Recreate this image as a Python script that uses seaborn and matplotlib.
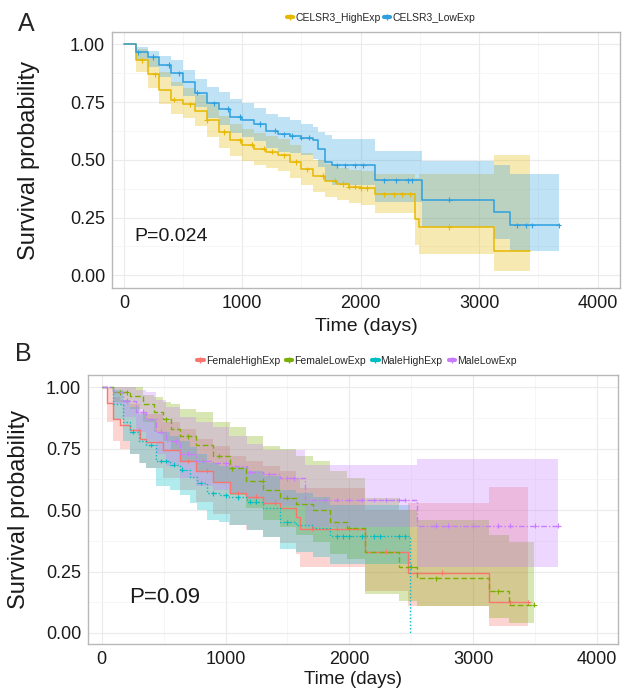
import numpy as np
import pandas as pd
import matplotlib
matplotlib.use("Agg")
import matplotlib.pyplot as plt
from matplotlib.lines import Line2D
from matplotlib.ticker import MultipleLocator, FormatStrFormatter
import seaborn as sns

# ---------------- Panel A data ----------------
a_groups = ["CELSR3_HighExp", "CELSR3_LowExp"]
a_colors = ["#E7B800", "#2E9FDF"]

high_t = [0, 100, 200, 300, 400, 500, 600, 700, 800, 900, 1000, 1100, 1200, 1300, 1400, 1500, 1600, 1700, 1800, 1900, 2000, 2122, 2460, 2490, 3122, 3432]
high_s = [1.0, 0.93, 0.87, 0.80, 0.76, 0.74, 0.71, 0.67, 0.62, 0.585, 0.565, 0.548, 0.535, 0.52, 0.49, 0.458, 0.43, 0.41, 0.395, 0.383, 0.378, 0.35, 0.245, 0.209, 0.104, 0.104]
high_lo = [1.0, 0.88, 0.81, 0.74, 0.70, 0.68, 0.645, 0.60, 0.55, 0.515, 0.495, 0.478, 0.465, 0.45, 0.42, 0.39, 0.36, 0.34, 0.325, 0.312, 0.305, 0.268, 0.13, 0.094, 0.017, 0.017]
high_hi = [1.0, 0.98, 0.94, 0.88, 0.835, 0.81, 0.78, 0.745, 0.69, 0.655, 0.635, 0.618, 0.605, 0.59, 0.565, 0.53, 0.50, 0.48, 0.465, 0.455, 0.45, 0.44, 0.42, 0.44, 0.52, 0.52]
high_cens = [150, 260, 420, 560, 700, 850, 980, 1080, 1180, 1250, 1350, 1450, 1550, 1680, 1780, 1850, 1900, 1950, 2000, 2050, 2200, 2280, 2350, 2420, 2750]

low_t = [0, 100, 200, 300, 400, 500, 600, 700, 800, 900, 1000, 1100, 1200, 1300, 1400, 1500, 1600, 1640, 1700, 1760, 2122, 2516, 3122, 3263, 3671]
low_s = [1.0, 0.965, 0.945, 0.91, 0.875, 0.835, 0.79, 0.745, 0.72, 0.685, 0.67, 0.655, 0.625, 0.61, 0.603, 0.595, 0.585, 0.548, 0.49, 0.476, 0.411, 0.328, 0.274, 0.216, 0.216]
low_lo = [1.0, 0.93, 0.90, 0.86, 0.82, 0.775, 0.73, 0.68, 0.65, 0.615, 0.60, 0.58, 0.55, 0.535, 0.528, 0.52, 0.505, 0.47, 0.41, 0.39, 0.317, 0.21, 0.159, 0.104, 0.104]
low_hi = [1.0, 0.99, 0.97, 0.95, 0.93, 0.89, 0.85, 0.815, 0.795, 0.765, 0.745, 0.725, 0.70, 0.685, 0.67, 0.655, 0.64, 0.62, 0.606, 0.592, 0.537, 0.495, 0.476, 0.44, 0.44]
low_cens = [120, 250, 380, 470, 620, 760, 880, 980, 1150, 1280, 1350, 1420, 1500, 1560, 1800, 1870, 1950, 2020, 2200, 2300, 2400, 2430, 2750, 3320, 3400, 3450, 3671]

# ---------------- Panel B data ----------------
b_groups = ["FemaleHighExp", "FemaleLowExp", "MaleHighExp", "MaleLowExp"]
b_colors = ["#F8766D", "#7CAE00", "#00BFC4", "#C77CFF"]

fh_t = [0, 40, 90, 145, 226, 307, 361, 496, 630, 765, 900, 1034, 1169, 1304, 1438, 1573, 1600, 2130, 2470, 3130, 3445]
fh_s = [1.0, 0.935, 0.87, 0.845, 0.826, 0.79, 0.778, 0.745, 0.70, 0.66, 0.615, 0.57, 0.555, 0.53, 0.51, 0.47, 0.425, 0.33, 0.245, 0.125, 0.125]
fh_lo = [1.0, 0.86, 0.78, 0.75, 0.73, 0.69, 0.67, 0.63, 0.58, 0.535, 0.485, 0.44, 0.42, 0.39, 0.365, 0.32, 0.27, 0.17, 0.11, 0.03, 0.03]
fh_hi = [1.0, 1.0, 0.96, 0.95, 0.93, 0.90, 0.89, 0.86, 0.83, 0.79, 0.76, 0.72, 0.70, 0.68, 0.66, 0.63, 0.59, 0.50, 0.53, 0.595, 0.595]
fh_cens = [300, 700, 850, 1100, 1250, 1400, 1700, 1900, 2300, 2750, 3300, 3445]

fl_t = [0, 92, 226, 330, 420, 496, 560, 630, 765, 900, 1034, 1169, 1304, 1438, 1573, 1708, 1840, 1977, 2130, 2400, 2548, 3130, 3290, 3494]
fl_s = [1.0, 0.98, 0.965, 0.93, 0.90, 0.87, 0.83, 0.80, 0.765, 0.72, 0.67, 0.62, 0.58, 0.55, 0.525, 0.50, 0.45, 0.426, 0.33, 0.27, 0.223, 0.17, 0.115, 0.115]
fl_lo = [1.0, 0.94, 0.91, 0.86, 0.82, 0.78, 0.74, 0.70, 0.66, 0.61, 0.56, 0.51, 0.46, 0.43, 0.40, 0.37, 0.32, 0.30, 0.16, 0.13, 0.108, 0.06, 0.04, 0.04]
fl_hi = [1.0, 1.0, 1.0, 0.97, 0.96, 0.94, 0.93, 0.91, 0.90, 0.86, 0.84, 0.80, 0.76, 0.75, 0.72, 0.70, 0.66, 0.63, 0.55, 0.50, 0.46, 0.40, 0.37, 0.37]
fl_cens = [150, 200, 520, 700, 950, 1050, 1300, 1500, 2000, 2500, 2700, 3200, 3494]

mh_t = [0, 90, 170, 230, 300, 360, 440, 550, 630, 710, 770, 850, 950, 1030, 1170, 1300, 1440, 1573, 1708, 1842, 2489]
mh_s = [1.0, 0.93, 0.86, 0.82, 0.78, 0.765, 0.70, 0.685, 0.665, 0.635, 0.61, 0.568, 0.56, 0.552, 0.535, 0.51, 0.45, 0.44, 0.426, 0.394, 0.0]
mh_lo = [1.0, 0.87, 0.78, 0.73, 0.69, 0.67, 0.60, 0.58, 0.56, 0.53, 0.50, 0.46, 0.45, 0.44, 0.42, 0.39, 0.34, 0.33, 0.31, 0.28, np.nan]
mh_hi = [1.0, 0.99, 0.95, 0.92, 0.89, 0.87, 0.82, 0.80, 0.78, 0.755, 0.73, 0.69, 0.68, 0.675, 0.66, 0.64, 0.58, 0.57, 0.555, 0.52, np.nan]
mh_cens = [250, 400, 480, 520, 580, 650, 800, 900, 1000, 1100, 1200, 1250, 1500, 1900, 1950, 2000, 2100, 2200, 2250, 2400, 2450]

ml_t = [0, 90, 170, 280, 360, 440, 520, 630, 765, 900, 1030, 1170, 1300, 1440, 1640, 2545, 3687]
ml_s = [1.0, 0.98, 0.945, 0.90, 0.87, 0.82, 0.78, 0.73, 0.70, 0.69, 0.68, 0.655, 0.645, 0.63, 0.541, 0.437, 0.437]
ml_lo = [1.0, 0.93, 0.88, 0.82, 0.78, 0.73, 0.68, 0.63, 0.60, 0.58, 0.57, 0.545, 0.53, 0.515, 0.43, 0.27, 0.27]
ml_hi = [1.0, 1.0, 1.0, 0.99, 0.98, 0.95, 0.92, 0.88, 0.86, 0.84, 0.80, 0.77, 0.745, 0.745, 0.683, 0.71, 0.71]
ml_cens = [200, 330, 480, 600, 700, 820, 1000, 1200, 1350, 1500, 1550, 1800, 1900, 2000, 2100, 2200, 2300, 2400, 2450, 2700, 2800, 3000, 3200, 3300, 3500, 3687]

a_pval = "P=0.024"
b_pval = "P=0.09"

# ---------------- helpers ----------------
def make_frames(groups, curves):
    rows, cens = [], []
    for g, (t, s, lo, hi, ct) in zip(groups, curves):
        d = pd.DataFrame({"time": t, "surv": s, "lower": lo, "upper": hi})
        d["lower"] = d["lower"].ffill()
        d["upper"] = d["upper"].ffill()
        d["strata"] = g
        rows.append(d)
        ta = np.asarray(t, float)
        sa = np.asarray(s, float)
        idx = np.searchsorted(ta, np.asarray(ct, float), side="right") - 1
        cens.append(pd.DataFrame({"time": ct, "surv": sa[idx], "strata": g}))
    return pd.concat(rows, ignore_index=True), pd.concat(cens, ignore_index=True)


def style_axes(ax, xlim, ylim):
    ax.set_xlim(*xlim)
    ax.set_ylim(*ylim)
    ax.xaxis.set_major_locator(MultipleLocator(1000))
    ax.xaxis.set_minor_locator(MultipleLocator(500))
    ax.yaxis.set_major_locator(MultipleLocator(0.25))
    ax.yaxis.set_minor_locator(MultipleLocator(0.125))
    ax.yaxis.set_major_formatter(FormatStrFormatter("%.2f"))
    ax.set_facecolor("white")
    ax.grid(which="major", color="#EBEBEB", lw=0.8)
    ax.grid(which="minor", color="#F3F3F3", lw=0.5)
    ax.set_axisbelow(True)
    for sp in ax.spines.values():
        sp.set_visible(True)
        sp.set_color("#B8B8B8")
        sp.set_linewidth(1.0)
    ax.tick_params(which="major", length=3, width=0.6, color="#B8B8B8",
                   labelsize=13, labelcolor="#1a1a1a", pad=2)
    ax.tick_params(which="minor", length=0)


sns.set_theme(style="white")
plt.rcParams["font.family"] = ["Liberation Sans", "DejaVu Sans"]

fig = plt.figure(figsize=(6.29, 6.90), dpi=100)
fig.patch.set_facecolor("white")

# ---------------- Panel A ----------------
axA = fig.add_axes([112 / 629, 1 - 288 / 690, 508 / 629, 256 / 690])
dfA, cenA = make_frames(a_groups, [
    (high_t, high_s, high_lo, high_hi, high_cens),
    (low_t, low_s, low_lo, low_hi, low_cens),
])
palA = dict(zip(a_groups, a_colors))
for g in a_groups:
    d = dfA[dfA.strata == g]
    axA.fill_between(d.time, d.lower, d.upper, step="post", color=palA[g],
                     alpha=0.3, lw=0)
sns.lineplot(data=dfA, x="time", y="surv", hue="strata", palette=palA,
             drawstyle="steps-post", estimator=None, errorbar=None,
             lw=1.1, legend=False, ax=axA)
sns.scatterplot(data=cenA, x="time", y="surv", hue="strata", palette=palA,
                marker="+", s=14, linewidth=0.8, legend=False, ax=axA)
style_axes(axA, (-100, 4190), (-0.055, 1.053))
axA.set_xlabel("Time (days)", fontsize=14, color="#1a1a1a")
axA.set_ylabel("Survival probability", fontsize=17, color="#1a1a1a")
axA.xaxis.set_label_coords(0.5, -(318 - 288) / 256)
axA.yaxis.set_label_coords((40 - 112) / 508, 0.5)
axA.text(93, 0.166, a_pval, fontsize=14, ha="left", va="center", color="#1a1a1a")

handlesA = [Line2D([], [], color=c, lw=3, marker="+", markersize=4,
                   markeredgecolor=c) for c in a_colors]
fig.legend(handlesA, a_groups, loc="center", bbox_to_anchor=(381 / 629, 1 - 18 / 690),
           ncol=2, frameon=False, fontsize=7.5, handlelength=0.6,
           handletextpad=0.2, columnspacing=0.3, borderpad=0)

# ---------------- Panel B ----------------
axB = fig.add_axes([88 / 629, 1 - 644 / 690, 530 / 629, 269 / 690])
dfB, cenB = make_frames(b_groups, [
    (fh_t, fh_s, fh_lo, fh_hi, fh_cens),
    (fl_t, fl_s, fl_lo, fl_hi, fl_cens),
    (mh_t, mh_s, mh_lo, mh_hi, mh_cens),
    (ml_t, ml_s, ml_lo, ml_hi, ml_cens),
])
palB = dict(zip(b_groups, b_colors))
dashB = dict(zip(b_groups, ["", (4, 2), (1, 1.5), (4, 1.5, 1, 1.5)]))
for g in b_groups:
    d = dfB[dfB.strata == g]
    axB.fill_between(d.time, d.lower, d.upper, step="post", color=palB[g],
                     alpha=0.3, lw=0)
sns.lineplot(data=dfB, x="time", y="surv", hue="strata", palette=palB,
             style="strata", dashes=dashB,
             drawstyle="steps-post", estimator=None, errorbar=None,
             lw=1.0, legend=False, ax=axB)
sns.scatterplot(data=cenB, x="time", y="surv", hue="strata", palette=palB,
                marker="+", s=12, linewidth=0.8, legend=False, ax=axB)
style_axes(axB, (-111, 4170), (-0.045, 1.05))
axB.set_xlabel("Time (days)", fontsize=13.5, color="#1a1a1a")
axB.set_ylabel("Survival probability", fontsize=17, color="#1a1a1a")
axB.xaxis.set_label_coords(0.5, -(671 - 644) / 269)
axB.yaxis.set_label_coords((30 - 88) / 530, 0.5)
axB.text(221, 0.146, b_pval, fontsize=16, ha="left", va="center", color="#1a1a1a")

handlesB = [Line2D([], [], color=c, lw=3, marker="+", markersize=4,
                   markeredgecolor=c) for c in b_colors]
fig.legend(handlesB, b_groups, loc="center", bbox_to_anchor=(357 / 629, 1 - 361 / 690),
           ncol=4, frameon=False, fontsize=7.5, handlelength=0.6,
           handletextpad=0.2, columnspacing=0.6, borderpad=0)

# panel letters
fig.text(26 / 629, 1 - 24 / 690, "A", fontsize=18, ha="center", va="center")
fig.text(23 / 629, 1 - 354 / 690, "B", fontsize=18, ha="center", va="center")

fig.savefig("out.png", dpi=100, facecolor="white")
